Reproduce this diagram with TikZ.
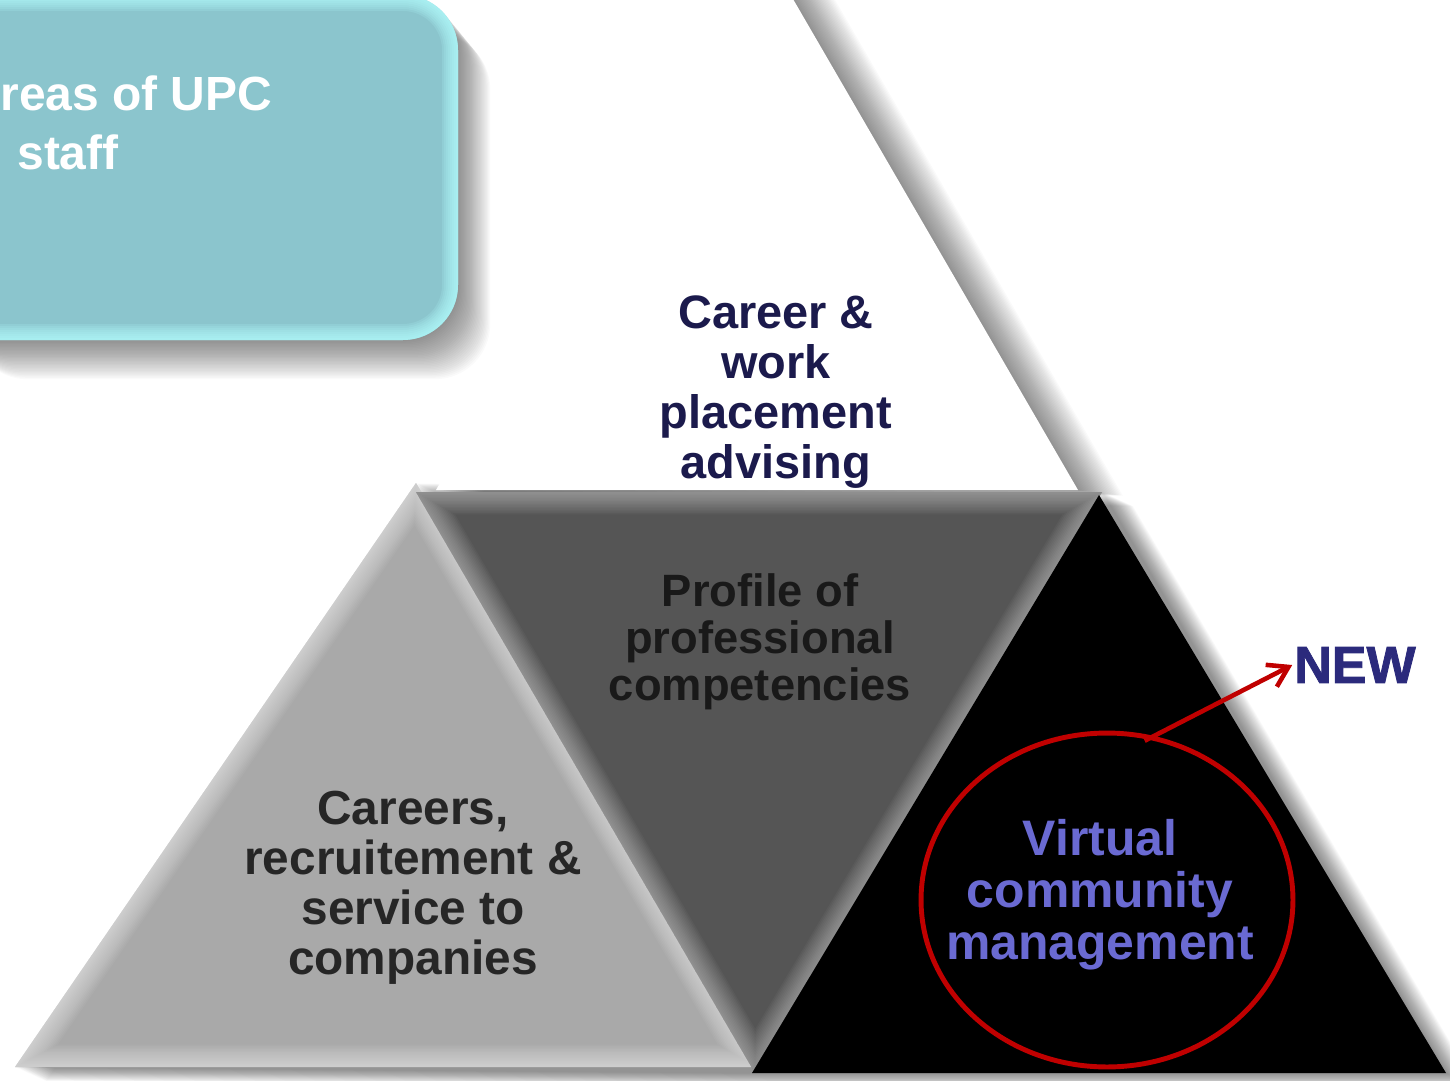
\documentclass[tikz,border=0pt]{standalone}
\usepackage{fontspec}
\setmainfont{Liberation Sans}
\newfontfamily\heavyfont{Liberation Sans}[BoldFeatures={FakeBold=1.6}]
\usetikzlibrary{shapes.geometric,arrows.meta}

\definecolor{boxTeal}{HTML}{8BC5CD}
\definecolor{boxGlow}{HTML}{B4FFFF}
\definecolor{triLight}{HTML}{A9A9A9}
\definecolor{triDark}{HTML}{555555}
\definecolor{careerNavy}{HTML}{1B1A4C}
\definecolor{virtualBlue}{HTML}{6A6AD2}
\definecolor{newNavy}{HTML}{2B2A7C}
\definecolor{ringRed}{HTML}{C00000}

\tikzset{
  softshadow/.style={fill=black, opacity=0.018},
  areatext/.style={font=\bfseries\fontsize{27.2}{28.5}\selectfont, align=center, inner sep=0pt},
  bevel/.style={white, opacity=0.045},
}

\begin{document}
\begin{tikzpicture}[x=0.02cm, y=-0.02cm]
  \useasboundingbox (0,0) rectangle (1450,1081);

  % Soft shadows, stacked shifted copies
  \foreach \i in {1,...,28} {
    \fill[softshadow, shift={(\i*1.6,\i*0.2)}] (757,-63) -- (1078,490) -- (436,490) -- cycle;
    \fill[softshadow, shift={(\i*1.15,\i*1.4)}, rounded corners=1.1cm] (-60,-5) rectangle (458,340);
    \fill[softshadow, shift={(\i*1.1,\i*0.5)}] (15,1067) -- (416,483) -- (1102,492) -- (1446,1073) -- (752,1073) -- cycle;
  }

  % Top (white) triangle
  \fill[white] (757,-63) -- (1078,490) -- (436,490) -- cycle;

  % Left triangle with bevel
  \fill[triLight] (15,1067) -- (416,483) -- (757,1067) -- cycle;
  \begin{scope}
    \clip (15,1067) -- (416,483) -- (757,1067) -- cycle;
    \foreach \w in {3,6,...,45}
      \draw[bevel, line width=\w*0.569pt] (15,1067) -- (416,483) -- (757,1067) -- cycle;
  \end{scope}

  % Middle triangle with bevel
  \fill[triDark] (416,492) -- (1102,492) -- (755,1073) -- cycle;
  \begin{scope}
    \clip (416,492) -- (1102,492) -- (755,1073) -- cycle;
    \foreach \w in {3,6,...,45}
      \draw[bevel, opacity=0.03, line width=\w*0.569pt] (416,492) -- (1102,492) -- (755,1073) -- cycle;
  \end{scope}

  % Right triangle
  \fill[black] (1099,495) -- (1446,1073) -- (752,1073) -- cycle;

  % Title box
  \fill[boxTeal, rounded corners=1.1cm] (-60,-5) rectangle (458,340);
  \begin{scope}
    \clip[rounded corners=1.1cm] (-60,-5) rectangle (458,340);
    \foreach \w in {4,8,...,32}
      \draw[boxGlow, opacity=0.16, line width=\w*0.569pt, rounded corners=1.1cm] (-60,-5) rectangle (458,340);
  \end{scope}
  \node[font=\bfseries\fontsize{27.3}{33.6}\selectfont, text=white, align=left,
        anchor=north west, inner sep=0pt] (areas) at (0,75) {reas of UPC\\\hspace*{0.34cm}staff};

  % Labels
  \node[areatext, text=careerNavy, font=\bfseries\fontsize{26.7}{28.5}\selectfont] (career) at (776,392) {Career \&\\work\\placement\\advising};
  \node[areatext, text=black!90, font=\bfseries\fontsize{25.8}{26.7}\selectfont] (profile) at (760,642) {Profile of\\professional\\competencies};
  \node[areatext, text=black!85] (careers) at (413,888) {Careers,\\recruitement \&\\service to\\companies};
  \node[areatext, text=virtualBlue, font=\bfseries\fontsize{28.4}{29.6}\selectfont] (virtual) at (1100,895) {Virtual\\community\\management};

  % Highlight ring and NEW tag
  \node[ellipse, draw=ringRed, line width=2.8pt, minimum width=7.44cm, minimum height=6.68cm] (ring) at (1107,900) {};
  \node[font=\heavyfont\bfseries\fontsize{29.6}{30}\selectfont, text=newNavy, inner sep=1pt] (new) at (1355,665) {NEW};
  \draw[ringRed, line width=2.6pt, shorten <=-6pt, -{Straight Barb[length=11pt,width=14pt]}] (ring.74) -- (new.west);
\end{tikzpicture}
\end{document}
